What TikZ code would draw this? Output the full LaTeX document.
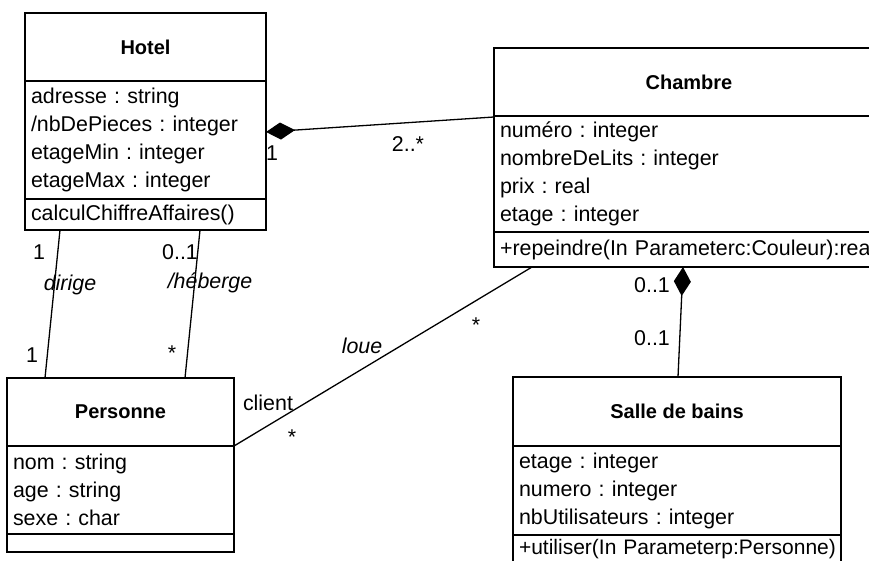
\documentclass[tikz,border=0pt]{standalone}
\usepackage{fontspec}
\setmainfont{Liberation Sans}
\usetikzlibrary{arrows.meta,positioning}

\newcommand{\umlfont}{\fontsize{21.4}{28}\selectfont\frenchspacing}
\newcommand{\umltitle}{\fontsize{20}{28}\selectfont\bfseries}

\tikzset{
    classname/.style={draw, line width=1.3pt, outer sep=0pt, inner sep=0pt,
        anchor=north west, font=\umltitle},
    classpart/.style={draw, line width=1.3pt, outer sep=0pt, inner xsep=6pt,
        inner ysep=0pt, anchor=north west, align=left, font=\umlfont},
    assoc/.style={line width=1.3pt},
    compo/.style={line width=1.3pt, {Diamond[length=29pt,width=17pt]}-},
    mult/.style={inner sep=0pt, font=\umlfont},
    role/.style={inner sep=0pt, font=\umlfont\itshape},
}

\begin{document}
\begin{tikzpicture}[x=1pt, y=-1pt]
    \path[use as bounding box, clip] (0,0) rectangle (869,561);

    % Hotel
    \node[classname, minimum width=241pt, minimum height=68pt] (hotel) at (25,13) {Hotel};
    \node[classpart, text width=229pt, minimum height=118pt] (hotelAttr) at (hotel.south west)
        {adresse : string\\/nbDePieces : integer\\etageMin : integer\\etageMax : integer};
    \node[classpart, text width=229pt, minimum height=31pt] (hotelOps) at (hotelAttr.south west)
        {calculChiffreAffaires()};

    % Chambre
    \node[classname, minimum width=390pt, minimum height=68pt] (chambre) at (494,48) {Chambre};
    \node[classpart, text width=378pt, minimum height=116pt] (chambreAttr) at (chambre.south west)
        {numéro : integer\\nombreDeLits : integer\\prix : real\\etage : integer};
    \node[classpart, text width=378pt, minimum height=35pt] (chambreOps) at (chambreAttr.south west)
        {\mbox{+repeindre(In Parameterc:Couleur):real}};

    % Personne
    \node[classname, minimum width=227pt, minimum height=68pt] (personne) at (7,378) {Personne};
    \node[classpart, text width=215pt, minimum height=88pt] (personneAttr) at (personne.south west)
        {nom : string\\age : string\\sexe : char};
    \node[classpart, text width=215pt, minimum height=18pt] (personneOps) at (personneAttr.south west) {};

    % Salle de bains
    \node[classname, minimum width=328pt, minimum height=69pt] (salle) at (513,377) {Salle de bains};
    \node[classpart, text width=316pt, minimum height=89pt] (salleAttr) at (salle.south west)
        {etage : integer\\numero : integer\\nbUtilisateurs : integer};
    \node[classpart, text width=316pt, minimum height=28pt, font=\fontsize{21}{28}\selectfont]
        (salleOps) at (salleAttr.south west) {\mbox{+utiliser(In Parameterp:Personne)}};

    % associations
    \draw[compo] ([yshift=-51pt]hotelAttr.north east) -- ([yshift=-1pt]chambre.south west);
    \draw[assoc] ([xshift=35pt]hotelOps.south west) -- ([xshift=38pt]personne.north west);
    \draw[assoc] ([xshift=175pt]hotelOps.south west) -- ([xshift=178pt]personne.north west);
    \draw[assoc] ([xshift=38pt]chambreOps.south west) -- (personne.south east);
    \draw[compo] ([xshift=189pt]chambreOps.south west) -- ([xshift=165pt]salle.north west);

    % multiplicities and roles
    \node[mult] (mHotel) at (272,153) {1};
    \node[mult] (mChambre) at (408,144) {2..*};
    \node[mult] (mDirigeH) at (39,252) {1};
    \node[mult] (mDirigeP) at (32,355) {1};
    \node[role] (lDirige) at (70,285) {dirige};
    \node[mult] (mHebergeH) at (180,252) {0..1};
    \node[mult] (mHebergeP) at (172,353) {*};
    \node[role] (lHeberge) at (210,283) {/héberge};
    \node[role] (lLoue) at (362,346) {loue};
    \node[mult] (mLoueC) at (476,325) {*};
    \node[mult] (rClient) at (268,403) {client};
    \node[mult] (mLoueP) at (292,437) {*};
    \node[mult] (mSalleC) at (652,285) {0..1};
    \node[mult] (mSalleS) at (652,338) {0..1};
\end{tikzpicture}
\end{document}
